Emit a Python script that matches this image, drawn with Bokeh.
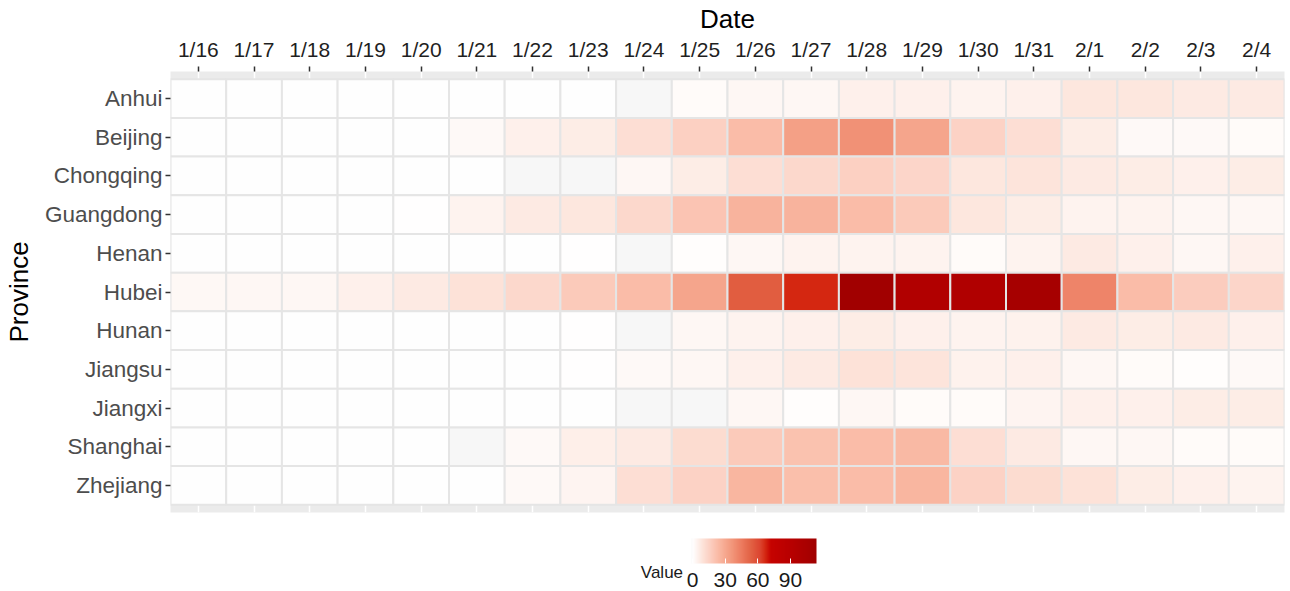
from bokeh.plotting import figure
from bokeh.layouts import column
from bokeh.models import (ColumnDataSource, LinearColorMapper, ColorBar,
                          FixedTicker, FactorRange, Range1d, Label)
from bokeh.embed import file_html
from bokeh.resources import INLINE

# ---- data -----------------------------------------------------------------
dates = ["1/16", "1/17", "1/18", "1/19", "1/20", "1/21", "1/22", "1/23",
         "1/24", "1/25", "1/26", "1/27", "1/28", "1/29", "1/30", "1/31",
         "2/1", "2/2", "2/3", "2/4"]

provinces = ["Anhui", "Beijing", "Chongqing", "Guangdong", "Henan", "Hubei",
             "Hunan", "Jiangsu", "Jiangxi", "Shanghai", "Zhejiang"]

anhui     = [0, 0, 0, 0, 0, 0, 0, 0, -1, 1.5, 3, 3, 5, 5, 4, 5, 8, 8, 7, 7]
beijing   = [0, 0, 0, 0, 0, 2, 5, 6, 11, 16, 23, 33, 38, 31, 15, 11, 6, 2, 2, 1.5]
chongqing = [0, 0, 0, 0, 0, 0, -1, -1, 3, 6, 11, 13, 16, 14, 8, 9, 7, 6, 5, 6]
guangdong = [0, 0, 0, 0, 0.5, 4, 7, 8, 13, 20, 26, 26, 23, 18, 8, 6, 4, 4, 3, 3]
henan     = [0, 0, 0, 0, 0, 0, 0, 0.5, -1, 1, 3, 4, 4, 4, 1.5, 4, 7, 5, 3, 5]
hubei     = [2.5, 3, 3, 5, 7, 10, 13, 18, 23, 31, 55, 67, 113, 97, 98, 108,
             42, 23, 17, 14]
hunan     = [0, 0, 0, 0, 0, 0, 0, 0.5, -1, 3, 4, 5, 6, 5, 4, 4.5, 7, 6, 7, 5]
jiangsu   = [0, 0, 0, 0, 0, 0, 0, 0.5, 2, 3, 5, 7, 10, 9, 4.5, 5, 3, 1.5, 1, 2]
jiangxi   = [0, 0, 0, 0, 0, 0, 0, 0, -1, -1, 3, 1, 3, 1.5, 1.5, 3.5, 5, 5, 6, 6]
shanghai  = [0, 0, 0, 0, 0, -1, 2, 5.5, 7, 12, 18, 21, 23, 24, 11, 7, 3, 3,
             1.5, 1.5]
zhejiang  = [0, 0, 0, 0, 0, 0, 2, 3.5, 11, 15, 25, 22, 23, 25, 15, 12, 10, 6,
             5, 4]

series = [anhui, beijing, chongqing, guangdong, henan, hubei,
          hunan, jiangsu, jiangxi, shanghai, zhejiang]

legend_ticks = [0, 30, 60, 90]

# ---- colour scale: near-white through salmon to deep red -------------------
stops = [(-1, "#f7f7f7"), (0, "#ffffff"), (3, "#fef6f3"), (8, "#fde7de"),
         (15, "#fcd2c5"), (25, "#f9b6a0"), (35, "#f39a7f"), (45, "#ec7b5f"),
         (55, "#e15d40"), (62, "#dc4530"), (67, "#d42711"), (72, "#c60200"),
         (90, "#b80000"), (114, "#a00000")]


def hex_rgb(h):
    return tuple(int(h[i:i + 2], 16) for i in (1, 3, 5))


def build_palette(stops, n=512):
    lo, hi = stops[0][0], stops[-1][0]
    out = []
    for k in range(n):
        v = lo + (hi - lo) * k / (n - 1)
        for (v0, c0), (v1, c1) in zip(stops[:-1], stops[1:]):
            if v0 <= v <= v1:
                t = (v - v0) / (v1 - v0) if v1 > v0 else 0
                a, b = hex_rgb(c0), hex_rgb(c1)
                rgb = [round(a[j] + (b[j] - a[j]) * t) for j in range(3)]
                out.append("#%02x%02x%02x" % tuple(rgb))
                break
    return out


palette = build_palette(stops)
mapper = LinearColorMapper(palette=palette, low=stops[0][0], high=stops[-1][0])

xs, ys, vals = [], [], []
for prov, row in zip(provinces, series):
    for d, v in zip(dates, row):
        xs.append(d)
        ys.append(prov)
        vals.append(v)
source = ColumnDataSource(dict(date=xs, province=ys, value=vals))

FONT = "Liberation Sans"
LEFT, RIGHT = 169, 6

# ---- heatmap --------------------------------------------------------------
x_range = FactorRange(factors=dates, range_padding=0)
y_range = FactorRange(factors=list(reversed(provinces)), range_padding=0.2,
                      range_padding_units="absolute")

heat = figure(width=1290, height=520, x_range=x_range, y_range=y_range,
              x_axis_location="above", output_backend="svg",
              toolbar_location=None, tools="")
heat.min_border_left = LEFT
heat.min_border_right = RIGHT
heat.min_border_top = 64
heat.min_border_bottom = 8
heat.outline_line_color = None
heat.background_fill_color = "#ebebeb"
heat.border_fill_color = "white"

heat.xgrid.grid_line_color = "white"
heat.xgrid.grid_line_width = 1.5
heat.ygrid.grid_line_color = "white"
heat.ygrid.grid_line_width = 1.5

heat.rect(x="date", y="province", width=1, height=1, source=source,
          fill_color={"field": "value", "transform": mapper},
          line_color="#e5e5e5", line_width=2)

heat.xaxis.axis_label = "Date"
heat.yaxis.axis_label = "Province"
for ax in (heat.xaxis[0], heat.yaxis[0]):
    ax.axis_line_color = None
    ax.major_tick_line_color = "#333333"
    ax.major_tick_line_width = 1.5
    ax.major_tick_out = 5
    ax.major_tick_in = 0
    ax.minor_tick_line_color = None
    ax.major_label_text_font = FONT
    ax.axis_label_text_font = FONT
    ax.axis_label_text_font_size = "26px"
    ax.axis_label_text_font_style = "normal"
    ax.axis_label_text_color = "black"
heat.xaxis.major_label_text_font_size = "21px"
heat.yaxis.major_label_text_font_size = "22.5px"
heat.xaxis.major_label_text_color = "#1f1f1f"
heat.yaxis.major_label_text_color = "#4d4d4d"
heat.xaxis.major_label_standoff = 6
heat.yaxis.major_label_standoff = 3
heat.xaxis.axis_label_standoff = 1
heat.yaxis.axis_label_standoff = 8

# ---- colour legend strip (x in page pixels, y in pixels from its bottom) --
key = figure(width=1290, height=71, x_range=Range1d(LEFT, 1290 - RIGHT),
             y_range=Range1d(0, 71), x_axis_location=None,
             y_axis_location=None, output_backend="svg",
             toolbar_location=None, tools="")
key.min_border_left = LEFT
key.min_border_right = RIGHT
key.min_border_top = 0
key.min_border_bottom = 0
key.outline_line_color = None
key.grid.visible = False
key.background_fill_color = "white"
key.border_fill_color = "white"

cbar = ColorBar(color_mapper=mapper, orientation="horizontal",
                width=125, height=25, location=(690 - LEFT, 2),
                ticker=FixedTicker(ticks=legend_ticks),
                padding=0, margin=0, label_standoff=9,
                major_label_text_font=FONT,
                major_label_text_font_size="21px",
                major_label_text_color="#1a1a1a",
                major_tick_line_color="white", major_tick_line_width=1,
                major_tick_in=5, major_tick_out=0,
                minor_tick_line_color=None, bar_line_color=None,
                background_fill_color=None, border_line_color=None)
key.add_layout(cbar, "center")

key.add_layout(Label(x=682, y=19, text="Value", text_align="right",
                     text_baseline="alphabetic", text_font=FONT,
                     text_font_size="17px", text_color="#1a1a1a"))

page = column(heat, key, spacing=0)

open("out.html", "w").write(file_html(page, INLINE))
